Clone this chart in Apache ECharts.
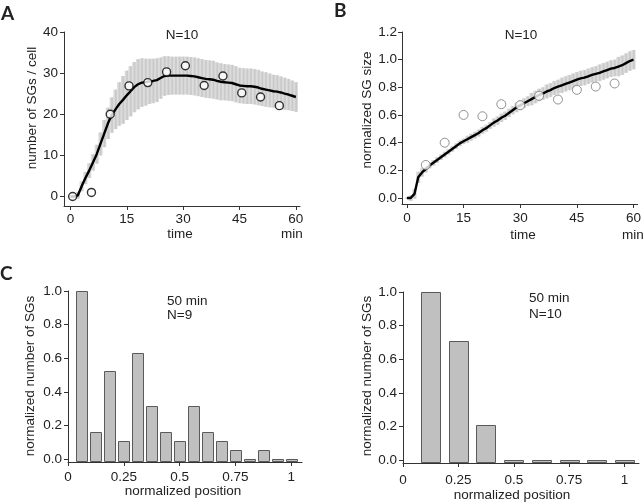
<!DOCTYPE html>
<html>
<head>
<meta charset="utf-8">
<script src="https://cdn.jsdelivr.net/npm/echarts@6/dist/echarts.min.js"></script>
<style>
html,body{margin:0;padding:0;background:#fff;}
#c{width:644px;height:503px;}
</style>
</head>
<body>
<div id="c"></div>
<script>
// ---------- DATA ----------
// Panel A: time course (1-min resolution), mean and half-width of band
const timeA = [0,1,2,3,4,5,6,7,8,9,10,11,12,13,14,15,16,17,18,19,20,21,22,23,24,25,26,27,28,29,30,31,32,33,34,35,36,37,38,39,40,41,42,43,44,45,46,47,48,49,50,51,52,53,54,55,56,57,58,59,60];
const meanA = [0,0,0.3,2.5,4.5,6.3,8.3,10.3,12.8,15.3,17.8,19.8,21.2,22.5,23.5,24.6,25.6,26.6,27.3,27.7,27.8,28.0,28.1,28.3,28.8,29.3,29.4,29.4,29.4,29.4,29.4,29.4,29.3,29.2,29.0,28.8,28.6,28.5,28.4,28.1,27.9,27.8,27.7,27.6,27.3,27.0,26.9,26.8,26.8,26.7,26.5,26.2,26.0,25.8,25.6,25.5,25.3,25.0,24.8,24.5,24.2];
const sdA = [0.3,0.5,0.8,1.2,1.5,1.8,2.0,2.3,2.8,3.3,3.8,4.3,4.8,5.3,5.8,6.0,6.1,6.1,6.1,5.9,5.7,5.5,5.4,5.3,5.0,4.8,4.7,4.6,4.6,4.6,4.6,4.6,4.6,4.6,4.6,4.6,4.6,4.6,4.6,4.5,4.5,4.4,4.4,4.4,4.4,4.3,4.3,4.3,4.3,4.3,4.3,4.2,4.2,4.1,4.0,4.0,3.9,3.9,3.8,3.7,3.6];
const ptTimeA = [0.6,5.6,10.6,15.6,20.6,25.6,30.6,35.6,40.6,45.6,50.6,55.6];
const ptValA = [0,1.0,20.0,26.9,27.7,30.3,31.8,27.0,29.3,25.2,24.2,22.1];

// Panel B
const timeB = timeA;
const meanB = [0,0,0.03,0.15,0.185,0.21,0.235,0.255,0.275,0.295,0.315,0.335,0.355,0.375,0.395,0.41,0.425,0.44,0.455,0.47,0.49,0.505,0.525,0.545,0.56,0.58,0.595,0.615,0.635,0.655,0.67,0.685,0.70,0.715,0.73,0.745,0.755,0.77,0.78,0.795,0.805,0.815,0.825,0.835,0.845,0.855,0.865,0.87,0.88,0.89,0.898,0.905,0.915,0.925,0.935,0.94,0.95,0.96,0.975,0.99,1.0];
const sdB = [0.005,0.02,0.035,0.04,0.03,0.025,0.02,0.02,0.02,0.02,0.02,0.02,0.02,0.02,0.02,0.02,0.025,0.025,0.025,0.025,0.025,0.025,0.025,0.03,0.03,0.03,0.03,0.03,0.03,0.035,0.035,0.035,0.035,0.045,0.045,0.045,0.045,0.05,0.05,0.05,0.05,0.055,0.055,0.055,0.055,0.055,0.055,0.055,0.055,0.055,0.055,0.06,0.06,0.06,0.06,0.06,0.07,0.07,0.07,0.07,0.07];
const ptTimeB = [5,10,15,20,25,30,35,40,45,50,55];
const ptValB = [0.239,0.40,0.601,0.591,0.678,0.671,0.739,0.712,0.782,0.806,0.828];

// Panel C left (N=9)
const posC1 = [0.0625,0.125,0.1875,0.25,0.3125,0.375,0.4375,0.5,0.5625,0.625,0.6875,0.75,0.8125,0.875,0.9375,1.0];
const valC1 = [1.0,0.158,0.526,0.105,0.632,0.316,0.158,0.105,0.316,0.158,0.105,0.053,0,0.053,0,0];
// Panel C right (N=10)
const posC2 = [0.125,0.25,0.375,0.5,0.625,0.75,0.875,1.0];
const valC2 = [1.0,0.71,0.21,0,0,0,0,0];

// Tick labels
const ticksTime = [0,15,30,45,60];
const ticksA_y = [0,10,20,30,40];
const ticksB_y = [0,0.2,0.4,0.6,0.8,1.0,1.2];
const ticksC_y = [0,0.2,0.4,0.6,0.8,1.0];
const ticksC_x = [0,0.25,0.5,0.75,1];
const ticksC_xLabels = ['0','0.25','0.5','0.75','1'];

// ---------- CHART ----------
const FONT = '"Liberation Sans", Arial, sans-serif';
const TXT = '#222';
const AX = '#333';
const FS = 13.5;

function axis(gridIndex, min, max, ticks, fmt, margin) {
  return {
    type: 'value', gridIndex, min, max,
    axisLine: {show: true, onZero: false, lineStyle: {color: AX, width: 1}},
    axisTick: {show: true, length: 4, inside: false, customValues: ticks, lineStyle: {color: AX}},
    axisLabel: {show: true, customValues: ticks, formatter: fmt, margin,
      color: TXT, fontFamily: FONT, fontSize: FS},
    splitLine: {show: false}
  };
}

const chart = echarts.init(document.getElementById('c'), null, {renderer: 'canvas'});

function bandSeries(xi, times, mean, sd) {
  const data = times.map((t, i) => [t, mean[i] - sd[i], mean[i] + sd[i]]);
  return {
    type: 'custom', xAxisIndex: xi, yAxisIndex: xi, data, z: 1, silent: true,
    renderItem: function (params, api) {
      const t = api.value(0);
      const p1 = api.coord([t - 0.55, api.value(2)]);
      const p2 = api.coord([t + 0.55, api.value(1)]);
      const c = api.coord([t, 0]);
      return {type: 'group', children: [
        {type: 'rect', shape: {x: p1[0], y: p1[1], width: p2[0] - p1[0], height: p2[1] - p1[1]},
          style: {fill: '#dadada'}},
        {type: 'rect', shape: {x: c[0] - 0.5, y: p1[1], width: 1.6, height: p2[1] - p1[1]},
          style: {fill: '#c9c9c9'}}
      ]};
    }
  };
}

function histSeries(xi, pos, val, w, ybase) {
  const data = pos.map((p, i) => [p, val[i]]);
  return {
    type: 'custom', xAxisIndex: xi, yAxisIndex: xi, data, z: 2,
    renderItem: function (params, api) {
      const x = api.value(0), v = api.value(1);
      const p1 = api.coord([x - w / 2, v]);
      const p2 = api.coord([x + w / 2, ybase]);
      const top = Math.min(p1[1], p2[1] - 3);
      return {type: 'rect', shape: {x: Math.round(p1[0]) + 0.5, y: Math.round(top) + 0.5,
        width: Math.round(p2[0] - p1[0]), height: Math.round(p2[1] - 1 - top)},
        style: {fill: '#c0c0c0', stroke: '#5a5a5a', lineWidth: 1}};
    }
  };
}

function txt(text, x, y, opts) {
  opts = opts || {};
  return {type: 'text', x, y, rotation: opts.rot || 0, z: 10,
    style: {text, fill: TXT, font: (opts.weight || 'normal') + ' ' + (opts.size || FS) + 'px ' + (opts.family || FONT),
      align: opts.align || 'center', textAlign: opts.align || 'center',
      verticalAlign: 'middle', textVerticalAlign: 'middle'}};
}

const LETTER = {weight: 'bold', size: 19, family: 'Lato, "Open Sans", sans-serif', align: 'left'};

const option = {
  animation: false,
  backgroundColor: '#fff',
  grid: [
    {left: 64, top: 32, width: 236, height: 174},
    {left: 402, top: 32, width: 237, height: 172},
    {left: 68, top: 291, width: 234, height: 171},
    {left: 403, top: 292, width: 236, height: 171}
  ],
  xAxis: [
    axis(0, -1.7, 61.1, ticksTime, v => String(v), 6),
    axis(1, -1.3, 61.1, ticksTime, v => String(v), 7),
    axis(2, 0, 1.048, ticksC_x, v => ticksC_xLabels[ticksC_x.indexOf(v)], 8),
    axis(3, 0, 1.065, ticksC_x, v => ticksC_xLabels[ticksC_x.indexOf(v)], 10)
  ],
  yAxis: [
    axis(0, -2.3, 40, ticksA_y, v => String(v), 6),
    axis(1, -0.043, 1.2, ticksB_y, v => v.toFixed(1), 5),
    axis(2, -0.018, 1.0, ticksC_y, v => v.toFixed(1), 6),
    axis(3, -0.016, 1.0, ticksC_y, v => v.toFixed(1), 6)
  ],
  series: [
    bandSeries(0, timeA, meanA, sdA),
    {type: 'line', xAxisIndex: 0, yAxisIndex: 0, data: timeA.map((t, i) => [t, meanA[i]]),
      showSymbol: false, symbol: 'none', lineStyle: {color: '#000', width: 2.4}, z: 3},
    {type: 'scatter', xAxisIndex: 0, yAxisIndex: 0, data: ptTimeA.map((t, i) => [t, ptValA[i]]),
      symbol: 'circle', symbolSize: 8, itemStyle: {color: '#fff', borderColor: '#000', borderWidth: 1.4}, z: 4},

    bandSeries(1, timeB, meanB, sdB),
    {type: 'line', xAxisIndex: 1, yAxisIndex: 1, data: timeB.map((t, i) => [t, meanB[i]]),
      showSymbol: false, symbol: 'none', lineStyle: {color: '#000', width: 2.4}, z: 3},
    {type: 'scatter', xAxisIndex: 1, yAxisIndex: 1, data: ptTimeB.map((t, i) => [t, ptValB[i]]),
      symbol: 'circle', symbolSize: 9, itemStyle: {color: '#fff', borderColor: '#777', borderWidth: 1}, z: 4},

    histSeries(2, posC1, valC1, 0.051, -0.018),
    histSeries(3, posC2, valC2, 0.087, -0.016)
  ],
  graphic: [
    txt('A', 1, 14, LETTER),
    txt('B', 334, 11, LETTER),
    txt('C', 0, 274, LETTER),

    txt('N=10', 182, 35),
    txt('time', 180, 234),
    txt('min', 292, 234),
    txt('number of SGs / cell', 32, 108, {rot: Math.PI / 2}),

    txt('N=10', 521, 35),
    txt('time', 523, 235),
    txt('min', 633, 235),
    txt('normalized SG size', 367, 110, {rot: Math.PI / 2}),

    txt('50 min', 167, 301, {align: 'left'}),
    txt('N=9', 167, 315, {align: 'left'}),
    txt('normalized position', 183, 491),
    txt('normalized number of SGs', 30, 376, {rot: Math.PI / 2}),

    txt('50 min', 529, 298, {align: 'left'}),
    txt('N=10', 529, 314, {align: 'left'}),
    txt('normalized position', 512, 495),
    txt('normalized number of SGs', 367, 376, {rot: Math.PI / 2})
  ]
};
chart.setOption(option);
</script>
</body>
</html>
